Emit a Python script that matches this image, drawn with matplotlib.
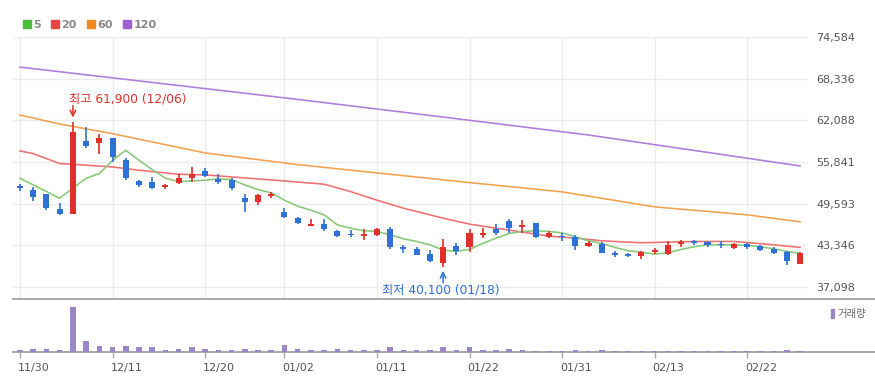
import matplotlib
matplotlib.use("Agg")
import matplotlib.pyplot as plt
import matplotlib.transforms as mtrans
from matplotlib.lines import Line2D
from matplotlib.patches import Patch

# trading days shown on the chart
dates = ["11/30", "12/01", "12/04", "12/05", "12/06", "12/07", "12/08", "12/11", "12/12", "12/13",
         "12/14", "12/15", "12/18", "12/19", "12/20", "12/21", "12/22", "12/26", "12/27", "12/28",
         "01/02", "01/03", "01/04", "01/05", "01/08", "01/09", "01/10", "01/11", "01/12", "01/15",
         "01/16", "01/17", "01/18", "01/19", "01/22", "01/23", "01/24", "01/25", "01/26", "01/29",
         "01/30", "01/31", "02/01", "02/02", "02/05", "02/06", "02/07", "02/08", "02/13", "02/14",
         "02/15", "02/16", "02/19", "02/20", "02/21", "02/22", "02/23", "02/26", "02/27", "02/28"]

opens = [52200, 51600, 51000, 48800, 48000, 59000, 58700, 59400, 56200, 53000,
         52900, 52100, 52700, 53500, 54500, 53300, 53100, 50400, 49900, 50700,
         48400, 47400, 46200, 46500, 45500, 45000, 44700, 44900, 45800, 43000,
         42700, 42000, 40700, 43200, 43100, 44900, 45700, 46900, 46000, 46600,
         44600, 44700, 44600, 43200, 43500, 42100, 41900, 41700, 42300, 42000,
         43500, 43900, 43800, 43500, 42900, 43500, 43200, 42800, 42300, 40500]
highs = [52500, 52100, 51000, 49700, 61900, 61100, 60100, 59400, 56500, 53200,
         53600, 52600, 54000, 55100, 55000, 54100, 53400, 51000, 51100, 51300,
         48900, 47600, 47200, 47200, 45600, 45600, 45700, 45900, 46000, 43400,
         43000, 42600, 44200, 43600, 45700, 45900, 46500, 47200, 47100, 46700,
         45400, 45100, 44900, 44000, 43800, 42500, 42100, 42400, 42900, 44000,
         44100, 44100, 43900, 43900, 43700, 43600, 43400, 43000, 42500, 42300]
lows = [51500, 50000, 48600, 47900, 48000, 58000, 57100, 55900, 53200, 52100,
        51800, 51800, 52600, 52900, 53600, 52500, 51700, 48400, 49400, 50400,
        47400, 46500, 46200, 45400, 44600, 44500, 44100, 44700, 42700, 42100,
        41800, 40800, 40100, 41900, 42300, 44400, 44900, 45100, 45100, 44400,
        44400, 43900, 42600, 43100, 42100, 41500, 41600, 41200, 42000, 41900,
        43100, 43400, 43000, 42900, 42800, 42700, 42500, 42000, 40400, 40500]
closes = [51900, 50600, 48900, 48100, 60300, 58200, 59400, 56600, 53400, 52400,
          51900, 52200, 53400, 54100, 53700, 52900, 51900, 49900, 50900, 51100,
          47500, 46600, 46500, 45700, 44700, 44800, 45000, 45700, 43100, 42800,
          41900, 40900, 43100, 42400, 45100, 45200, 45100, 45900, 46400, 44600,
          45100, 44500, 43200, 43600, 42200, 41800, 41700, 42300, 42500, 43300,
          43700, 43600, 43300, 43300, 43500, 43000, 42600, 42200, 41000, 42100]

volumes = [70, 100, 100, 70, 1350, 340, 180, 150, 180, 150,
           150, 70, 100, 150, 100, 70, 70, 100, 70, 50,
           220, 100, 70, 70, 100, 70, 70, 70, 150, 70,
           70, 70, 150, 70, 150, 70, 70, 100, 70, 40,
           40, 40, 70, 40, 70, 40, 40, 40, 40, 40,
           40, 40, 40, 40, 40, 40, 40, 40, 70, 40]

ma5 = [53400, 52400, 51400, 50400, 51900, 53400, 54100, 56100, 57600, 56100,
       54700, 53400, 52900, 53000, 53100, 53300, 53200, 52400, 51700, 51200,
       50100, 49200, 48600, 47900, 46400, 45900, 45500, 45400, 44900, 44300,
       43900, 43400, 42600, 42400, 42700, 43600, 44400, 45100, 45400, 45500,
       45400, 45200, 44600, 44000, 43600, 43000, 42500, 42300, 42000, 42200,
       42700, 43100, 43400, 43400, 43400, 43300, 43100, 42800, 42400, 42100]

ma20_idx = [0, 1, 3, 4, 7, 9, 12, 14, 16, 20, 23, 25, 27, 29, 32, 34, 36, 38, 40, 42, 44, 47, 51, 54, 57, 59]
ma20_val = [57500, 57100, 55600, 55500, 55100, 54600, 54000, 53900, 53600, 53000, 52500, 51400, 50100,
            48900, 47400, 46500, 45900, 45300, 44700, 44400, 44000, 43700, 43900, 43900, 43400, 43000]

ma60_idx = [0, 3, 7, 14, 21, 27, 34, 41, 48, 55, 59]
ma60_val = [62900, 61550, 60100, 57200, 55450, 54200, 52750, 51350, 49100, 47900, 46850]

ma120_idx = [0, 10, 21, 32, 43, 59]
ma120_val = [70100, 67800, 65250, 62600, 59900, 55250]

price_ticks = [37098, 43346, 49593, 55841, 62088, 68336, 74584]
tick_dates = ["11/30", "12/11", "12/20", "01/02", "01/11", "01/22", "01/31", "02/13", "02/22"]

UP = "#e0302b"
DOWN = "#2f72d6"
GRID = "#ececec"
TXT = "#555555"

W, H = 875, 391
fig = plt.figure(figsize=(W / 100, H / 100), dpi=100)

# pixel layout of the two panels
px_left, px_right, px_vright = 13, 808, 875
px_top, px_sep, px_base = 37.3, 298.5, 352
ax = fig.add_axes([px_left / W, 1 - px_sep / H, (px_right - px_left) / W, (px_sep - px_top) / H])
axv = fig.add_axes([px_left / W, 1 - px_base / H, (px_vright - px_left) / W, (px_base - px_sep) / H])

x = list(range(len(dates)))
tick_idx = [dates.index(d) for d in tick_dates]

# moving averages
ax.plot(ma120_idx, ma120_val, color="#b07ddc", lw=1.15, zorder=2)
ax.plot(ma60_idx, ma60_val, color="#f5a04e", lw=1.15, zorder=2)
ax.plot(ma20_idx, ma20_val, color="#ee7070", lw=1.15, zorder=2)
ax.plot(x, ma5, color="#86c977", lw=1.15, zorder=2)

# candles
for i in x:
    o, h, l, c = opens[i], highs[i], lows[i], closes[i]
    col = UP if c >= o else DOWN
    ax.vlines(i, l, h, color=col, lw=1.2, zorder=3)
    bottom = min(o, c)
    height = max(abs(c - o), 250)
    ax.bar(i, height, bottom=bottom, width=0.46, color=col, zorder=4)

ax.set_xlim(-0.53, 59.6)
ax.set_ylim(35325, 74584)
ax.set_yticks(price_ticks)
ax.set_yticklabels([f"{v:,}" for v in price_ticks])
ax.yaxis.tick_right()
ax.tick_params(axis="y", length=0, pad=6, labelsize=8, labelcolor=TXT)
ax.set_xticks(tick_idx)
ax.tick_params(axis="x", length=0, labelbottom=False)
ax.grid(True, color=GRID, lw=1)
ax.set_axisbelow(True)
for s in ax.spines.values():
    s.set_visible(False)

# max / min marks
kfont = ["DejaVu Sans", "Noto Sans CJK KR"]
imax = highs.index(max(highs))
imin = lows.index(min(lows))
ax.annotate("", xy=(imax, highs[imax]), xytext=(0, 16), textcoords="offset pixels",
            arrowprops=dict(arrowstyle="->", color=UP, lw=1.1, shrinkA=0, shrinkB=3))
ax.annotate(f"최고 {highs[imax]:,} ({dates[imax]})", xy=(imax, highs[imax]), xytext=(-4, 23),
            textcoords="offset pixels", ha="left", va="center", color=UP, fontsize=8.8, family=kfont)
ax.annotate("", xy=(imin, lows[imin]), xytext=(0, -16), textcoords="offset pixels",
            arrowprops=dict(arrowstyle="->", color=DOWN, lw=1.1, shrinkA=0, shrinkB=3))
ax.annotate(f"최저 {lows[imin]:,} ({dates[imin]})", xy=(imin, lows[imin]), xytext=(-61, -23),
            textcoords="offset pixels", ha="left", va="center", color=DOWN, fontsize=8.8, family=kfont)

# volume panel
axv.bar(x, volumes, width=0.42, color="#9b86c8", zorder=3)
axv.set_xlim(-0.53, 64.67)
axv.set_ylim(0, 1596)
axv.set_yticks([])
axv.set_xticks(tick_idx)
axv.set_xticklabels(tick_dates, ha="left")
axv.tick_params(axis="x", length=4, width=1, color="#aaaaaa", pad=4, labelsize=8, labelcolor=TXT)
for side in ["left", "right"]:
    axv.spines[side].set_visible(False)
for side in ["top", "bottom"]:
    axv.spines[side].set_color("#999999")
    axv.spines[side].set_linewidth(1.2)

# shift x labels a touch left so they start at the tick
off = mtrans.ScaledTranslation(-2 / 100, 0, fig.dpi_scale_trans)
for lbl in axv.get_xticklabels():
    lbl.set_transform(lbl.get_transform() + off)

# legends
ma_handles = [Line2D([], [], marker="s", ls="", color=c, markersize=6)
              for c in ["#4cba3b", "#e84545", "#f2891f", "#9d5fd2"]]
leg = fig.legend(ma_handles, ["5", "20", "60", "120"], loc="center left",
                 bbox_to_anchor=(17 / W, 1 - 25 / H), ncol=4, frameon=False,
                 handlelength=0.8, handletextpad=0.15, columnspacing=0.9, borderpad=0,
                 prop=dict(size=8, weight="bold"))
for t in leg.get_texts():
    t.set_color("#888888")

vleg = fig.legend([Patch(color="#9b86c8")], ["거래량"], loc="center left",
                  bbox_to_anchor=(826 / W, 1 - 314 / H), frameon=False,
                  handlelength=0.3, handleheight=0.9, handletextpad=0.3, borderpad=0,
                  prop=dict(family=["Noto Sans CJK KR", "DejaVu Sans"], size=7.5))
for t in vleg.get_texts():
    t.set_color("#666666")

fig.savefig("out.png", dpi=100)
